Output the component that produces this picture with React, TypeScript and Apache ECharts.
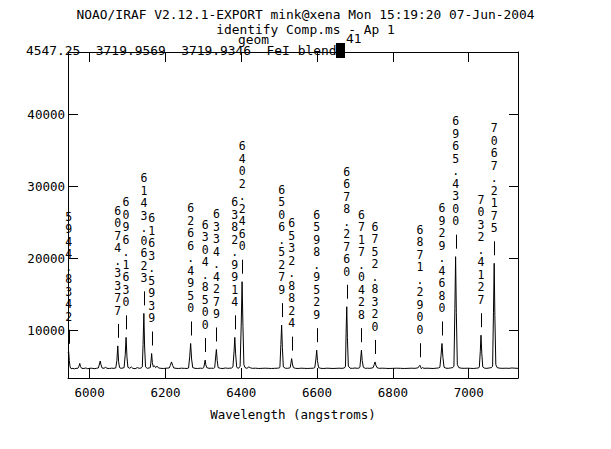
import { useEffect, useRef } from "react";
import * as echarts from "echarts";

const HEADER_TITLE = "NOAO/IRAF V2.12.1-EXPORT mink@xena Mon 15:19:20 07-Jun-2004";
const HEADER_SUB = "identify Comp.ms - Ap 1";
const HEADER_STATUS = "4547.25  3719.9569  3719.9346  FeI blend";
const HEADER_GEOM = "geom";
const HEADER_NUM = "41";

const X_RANGE = [5943, 7130];
const Y_RANGE = [3357, 48640];
const X_TICKS = [6000, 6200, 6400, 6600, 6800, 7000];
const Y_TICKS = [10000, 20000, 30000, 40000];
const X_NAME = "Wavelength (angstroms)";

const LINE_WAVES = [
  5944.83, 6074.34, 6096.16, 6143.06, 6163.59, 6266.5, 6304.79, 6334.43, 6382.99, 6402.25,
  6506.53, 6532.88, 6598.95, 6678.28, 6717.04, 6752.83, 6871.29, 6929.47, 6965.43, 7032.41, 7067.22,
];
const LINE_FLUX = [
  7000, 7820, 9000, 12330, 6760, 8150, 5850, 7320, 9000, 16730,
  10700, 6050, 7220, 13250, 7220, 5590, 5130, 8150, 20210, 9300, 19290,
];
const LINE_LABELS = [
  "5944.8342", "6074.3377", "6096.1630", "6143.0623", "6163.5939", "6266.4950", "6304.8500",
  "6334.4279", "6382.9914", "6402.2460", "6506.5279", "6532.8824", "6598.9529", "6678.2760",
  "6717.0428", "6752.8320", "6871.2900", "6929.4680", "6965.4300", "7032.4127", "7067.2175",
];

const SPECTRUM: [number, number][] = [
  [5943, 6900], [5944.8, 7000], [5946.5, 5800], [5948.5, 4900], [5951, 4650], [5956, 4700], [5960, 4620], [5964, 4700],
  [5969, 4700], [5972, 5000], [5974, 5380], [5976, 4950], [5979, 4700],
  [5985, 4680], [5990, 4750], [5995, 4650], [6000, 4700], [6006, 4720], [6012, 4650], [6018, 4700],
  [6023, 4750], [6026, 5300], [6028, 5720], [6030, 5200], [6033, 4750],
  [6038, 4700], [6042, 4850], [6046, 4700], [6052, 4680], [6058, 4720], [6064, 4700],
  [6069, 4750], [6072, 5800], [6074.3, 7820], [6076.5, 5600], [6079, 4800],
  [6083, 4700], [6088, 4750],
  [6091, 4800], [6094, 6600], [6096.2, 9000], [6098.5, 6300], [6101, 4850],
  [6106, 4700], [6110, 4900], [6114, 4700], [6120, 4650], [6126, 4800], [6131, 4700], [6136, 4750],
  [6139, 4900], [6141, 8000], [6143.1, 12330], [6145, 7800], [6147.5, 4900],
  [6152, 4700], [6157, 4750],
  [6160, 4800], [6162, 5700], [6163.6, 6760], [6165.5, 5500], [6168, 4900],
  [6171, 5050], [6174, 4800], [6178, 5000], [6182, 4750], [6188, 4700], [6195, 4680], [6202, 4720],
  [6210, 4750], [6213, 5100], [6216, 5590], [6219, 5100], [6222, 4750],
  [6228, 4700], [6235, 4680], [6242, 4720], [6250, 4700], [6257, 4680],
  [6261, 4750], [6264, 6300], [6266.5, 8150], [6269, 6000], [6272, 4800],
  [6278, 4700], [6285, 4680], [6292, 4720], [6298, 4700],
  [6301, 4800], [6303, 5300], [6304.8, 5850], [6306.5, 5200], [6309, 4800],
  [6315, 4700], [6321, 4720], [6327, 4700],
  [6330, 4800], [6332, 6000], [6334.4, 7320], [6336.5, 5800], [6339, 4800],
  [6345, 4700], [6352, 4680], [6358, 4750], [6364, 4700], [6370, 4720], [6375, 4750],
  [6378, 4900], [6381, 7000], [6383, 9000], [6385, 6800], [6388, 4900],
  [6391, 4700], [6395, 4800],
  [6397, 5000], [6400, 11000], [6402.2, 16730], [6404.5, 10500], [6407, 5200], [6410, 4800],
  [6415, 4700], [6420, 4900], [6425, 4750], [6430, 4700], [6438, 4720], [6446, 4680], [6455, 4700],
  [6463, 4720], [6471, 4700], [6480, 4680], [6488, 4700], [6495, 4720], [6500, 4750],
  [6502, 4850], [6504.5, 8000], [6506.5, 10700], [6508.5, 7600], [6511, 4900],
  [6516, 4720], [6522, 4700], [6527, 4750],
  [6529, 4800], [6531, 5400], [6532.9, 6050], [6535, 5300], [6537.5, 4800],
  [6543, 4700], [6550, 4680], [6558, 4720], [6566, 4700], [6574, 4680], [6582, 4700], [6590, 4720],
  [6594, 4800], [6597, 6000], [6599, 7220], [6601, 5800], [6604, 4800],
  [6610, 4700], [6618, 4680], [6626, 4720], [6634, 4700], [6642, 4680], [6650, 4700], [6658, 4720],
  [6666, 4700], [6672, 4750],
  [6675, 5000], [6676.5, 9500], [6678.3, 13250], [6680, 9000], [6682.5, 5000],
  [6687, 4720], [6694, 4700], [6700, 4750], [6706, 4700], [6711, 4750],
  [6713, 4850], [6715, 6000], [6717, 7220], [6719, 5800], [6722, 4850],
  [6727, 4700], [6733, 4720], [6739, 4700], [6745, 4750],
  [6748, 4800], [6750.5, 5200], [6752.8, 5590], [6755, 5150], [6758, 4800],
  [6764, 4700], [6772, 4720], [6780, 4700], [6790, 4680], [6800, 4700], [6810, 4720], [6820, 4700],
  [6830, 4680], [6840, 4700], [6850, 4720], [6858, 4700], [6864, 4750],
  [6867, 4800], [6869, 5000], [6871.3, 5130], [6873, 4900], [6875, 4650], [6878, 4800], [6882, 4700],
  [6890, 4720], [6898, 4700], [6906, 4680], [6914, 4720], [6920, 4750],
  [6924, 4850], [6927, 6500], [6929.5, 8150], [6932, 6200], [6935, 4850],
  [6940, 4720], [6946, 4700], [6952, 4750], [6958, 4800],
  [6961, 5000], [6963.5, 13000], [6965.4, 20210], [6967.3, 12500], [6970, 5200], [6974, 4800],
  [6980, 4720], [6988, 4700], [6996, 4720], [7004, 4700], [7012, 4680], [7020, 4720], [7026, 4750],
  [7028, 4900], [7030.5, 7000], [7032.4, 9300], [7034.5, 6800], [7037, 4900],
  [7042, 4720], [7048, 4700], [7054, 4750], [7060, 4800],
  [7063, 5000], [7065.3, 12500], [7067.2, 19290], [7069, 12000], [7071.5, 5200], [7075, 4800],
  [7082, 4720], [7090, 4700], [7098, 4720], [7106, 4700], [7114, 4750], [7122, 4720], [7130, 4700],
];

const FONT = '"DejaVu Sans Mono", monospace';

export default function App() {
  const ref = useRef<HTMLDivElement>(null);
  useEffect(() => {
    const chart = echarts.init(ref.current!, undefined, { renderer: "svg" });
    const head = { fontFamily: FONT, fontSize: 12.9, fontWeight: "normal", color: "#000" };
    const txt = { fontFamily: FONT, fontSize: 12.5, fontWeight: "normal", color: "#000" };
    const plain = (v: number) => String(v);
    const renderItem = (params: any, api: any) => {
      const p = api.coord([api.value(0), api.value(1)]);
      const x = Math.round(p[0]) + 0.5;
      const y = p[1];
      const label = LINE_LABELS[params.dataIndex];
      return {
        type: "group",
        children: [
          {
            type: "line",
            shape: { x1: x, y1: y - 22, x2: x, y2: y - 8 },
            style: { stroke: "#000", lineWidth: 1 },
          },
          {
            type: "text",
            x: p[0],
            y: y - 29,
            style: {
              text: label.split("").join("\n"),
              align: "center",
              verticalAlign: "bottom",
              fontFamily: FONT,
              fontSize: 11.5,
              lineHeight: 12.5,
              fill: "#000",
            },
          },
        ],
      };
    };
    const axisCommon = {
      min: X_RANGE[0],
      max: X_RANGE[1],
      type: "value",
      splitLine: { show: false },
      axisLine: { show: true, onZero: false, lineStyle: { color: "#000", width: 1 } },
    };
    const yCommon = {
      min: Y_RANGE[0],
      max: Y_RANGE[1],
      type: "value",
      splitLine: { show: false },
      axisLine: { show: true, onZero: false, lineStyle: { color: "#000", width: 1 } },
    };
    chart.setOption({
      animation: false,
      backgroundColor: "#fff",
      title: [
        { text: HEADER_TITLE, left: "center", top: 8, padding: 0, textStyle: head },
        { text: HEADER_SUB, left: "center", top: 23, padding: 0, textStyle: head },
        { text: HEADER_STATUS, left: 26, top: 44, padding: 0, textStyle: head },
        { text: HEADER_GEOM, left: 238, top: 33, padding: 0, textStyle: head },
        { text: HEADER_NUM, left: 346, top: 32, padding: 0, textStyle: head },
      ],
      graphic: [
        { type: "rect", shape: { x: 336, y: 43, width: 9, height: 15 }, style: { fill: "#000" } },
      ],
      grid: { left: 68, top: 52, width: 450, height: 326, outerBoundsMode: "none" },
      xAxis: [
        {
          ...axisCommon,
          position: "bottom",
          name: X_NAME,
          nameLocation: "middle",
          nameGap: 30,
          nameTextStyle: txt,
          axisTick: { show: true, inside: true, length: 10, customValues: X_TICKS, lineStyle: { color: "#000" } },
          axisLabel: { show: true, margin: 8, customValues: X_TICKS, formatter: plain, ...txt },
        },
        {
          ...axisCommon,
          position: "top",
          axisTick: { show: true, inside: true, length: 10, customValues: X_TICKS, lineStyle: { color: "#000" } },
          axisLabel: { show: false },
        },
      ],
      yAxis: [
        {
          ...yCommon,
          position: "left",
          axisTick: { show: true, inside: true, length: 10, customValues: Y_TICKS, lineStyle: { color: "#000" } },
          axisLabel: { show: true, margin: 3, customValues: Y_TICKS, formatter: plain, ...txt },
        },
        {
          ...yCommon,
          position: "right",
          axisTick: { show: true, inside: true, length: 9, customValues: Y_TICKS, lineStyle: { color: "#000" } },
          axisLabel: { show: false },
        },
      ],
      series: [
        {
          type: "line",
          data: SPECTRUM,
          xAxisIndex: 0,
          yAxisIndex: 0,
          showSymbol: false,
          symbol: "none",
          silent: true,
          lineStyle: { color: "#000", width: 1 },
        },
        {
          type: "custom",
          data: LINE_WAVES.map((w, i) => [w, LINE_FLUX[i]]),
          xAxisIndex: 0,
          yAxisIndex: 0,
          clip: false,
          silent: true,
          renderItem,
        },
      ],
    });
    return () => chart.dispose();
  }, []);
  return <div ref={ref} style={{ position: "fixed", left: 0, top: 0, width: 611, height: 449 }} />;
}
